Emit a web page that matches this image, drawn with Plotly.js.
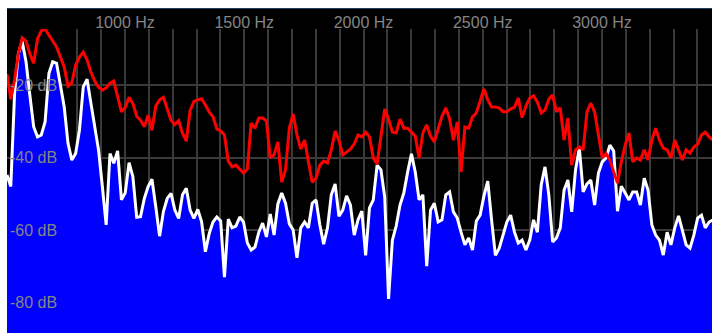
<!DOCTYPE html>
<html><head><meta charset="utf-8">
<script src="https://cdn.plot.ly/plotly-3.0.1.min.js"></script>
<style>
html,body{margin:0;padding:0;background:#fff;width:712px;height:333px;overflow:hidden}
#chart{position:absolute;left:7px;top:8px;width:705px;height:324px;border-top:1px solid #1f3f5f;}
</style></head><body><div id="chart"></div><script>
// FFT bins (Hz)
const binStartHz = 505;
const binStepHz = 16;
// white spectrum (dB), filled blue below
const spectrumDb = [
-44.8,-48,-22.3,-11.3,-8,-13.6,-22.8,-31.5,-34.3,-33.8,
-30.1,-16.8,-13.6,-14,-20,-26,-36.1,-40.7,-38.9,-32.4,
-20.5,-18.4,-25,-31.5,-37.9,-48,-58.6,
-38.9,-41.6,-38.2,-51.7,-49.7,-41.4,-45.3,-56.5,-56.3,-51.3,
-48,-46,-53.6,-61.7,-54.9,-51.3,-49.9,-54.5,-56.8,-50.3,
-48.5,-54.5,-56.8,-54.3,-57.7,-66,
-61,-57.8,-56.4,-57.5,-73,-57,-59.4,-58.9,-56.4,-57.8,
-63.6,-65.5,-64.7,-60.6,-58.1,-61.9,-55.6,-61.4,-52.8,-49.8,
-52.6,-58.3,-60,-67.7,-59.4,-57.8,
-59.4,-52.6,-51.7,-58.6,-63.9,-59.4,-50.3,-47.3,-56.2,-54.5,
-50.6,-53.1,-61.4,-57.2,-54.8,-67,-53.9,-51.7,-42.1,-43.4,
-50.9,-79,-62.8,-58.9,-53.1,-49.8,
-44,-39,-44,-51.7,-50.3,-70,-54.5,-52.6,-57.8,-57.2,
-50.3,-49.5,-55,-56.7,-60.6,-64.1,-62.2,-65.5,-57.5,-55.9,
-50.6,-46.5,-57.2,-67,-65,-61.4,
-57.8,-55.9,-60.6,-63.6,-62.8,-65.5,-62.8,-57.2,-60.6,-47.6,
-42.6,-50.3,-63.3,-62.2,-59.4,-49,-46.2,-55,-43.4,-37.4,
-49.5,-47.3,-46.2,-53.1,-44.3,-41.2,-40.1,
-36.6,-38.2,-54.8,-47.9,-49.8,-51.7,-49.5,-49.5,-53.1,-45.7,
-49,-58.6,-61.4,-62.8,-66.9,-60.6,-64.1,-59.4,-56.1,-60,
-64.1,-65,-61.4,-56.7,-55.9,-59.4,-57.8,-57.2
];
// red peak-hold curve (dB)
const peakDb = [
-17,-23.9,-18.6,-11.4,-7,-7.9,-11.4,-14,-7.3,-5.1,
-4.6,-6.2,-8.1,-9.5,-12.3,-15,-20.3,-19.4,-14.5,-12.3,
-10.9,-13.1,-16.4,-18.9,-20.6,-21.4,-20.8,
-19.5,-18.9,-23.2,-27.4,-26.2,-23.4,-25.1,-28.6,-29.7,-31.5,
-28.3,-32.5,-25.8,-24.1,-23.4,-26.4,-29.7,-30.9,-29.8,-33.3,
-35.5,-27,-24.5,-24.1,-23.8,-25.5,
-27.4,-28.8,-32.1,-32.7,-33.8,-41,-42.6,-42.1,-43.2,-44.3,
-43.2,-30.5,-31.9,-29.1,-29.1,-29.9,-40.1,-39.3,-35.7,-46.8,
-43.4,-31.9,-28,-33.8,-37.7,-35.2,
-41.2,-46.8,-45.7,-42.1,-41,-41.5,-37.9,-32.7,-35.2,-39.3,
-38.5,-37.7,-36.3,-33.8,-34.3,-33,-34.3,-40.1,-41.8,-33.5,
-26.6,-29.4,-33,-33.2,-29.4,-31.9,
-31.9,-33,-34.1,-40.1,-33.2,-31,-34.1,-35.7,-31.9,-28.6,
-26.3,-29.4,-35.2,-30.2,-44,-31.6,-31.9,-28.8,-27.7,-24.1,
-21.1,-24.1,-26.1,-26.1,-26.3,-27.4,
-27.4,-26.6,-26.1,-23.6,-29,-25.8,-23.6,-23,-24.7,-27.7,
-26.9,-23.9,-22.8,-27.4,-26.3,-35.2,-29.1,-42.1,-37.9,-37.1,
-37.9,-27.4,-25,-27.4,-33.8,-40.1,-38.9,
-40.7,-44,-47,-41.2,-36.6,-33.2,-41.2,-40.1,-40.7,-37.9,
-40.7,-35.2,-31.9,-35.2,-37.4,-37.9,-40.1,-35.2,-37.9,-40.7,
-37.9,-38.8,-37.1,-36.3,-33.8,-33,-34.3,-35.2
];
// axis ticks
const gridHz = [600,700,800,900,1000,1100,1200,1300,1400,1500,1600,1700,1800,1900,2000,2100,2200,2300,2400,2500,2600,2700,2800,2900,3000,3100,3200,3300,3400];
const labelHz = [1000,1500,2000,2500,3000];
const dbTicks = [-80,-60,-40,-20];
const dbLabels = ['-80 dB','-60 dB','-40 dB','-20 dB'];
const floorDb = -120;

const freqHz = spectrumDb.map((_, i) => binStartHz + i * binStepHz);
const xTickText = gridHz.map(f => labelHz.includes(f) ? f + ' Hz' : '');

const font = {family:'"Liberation Sans", Arial, sans-serif', size:16, color:'#858585'};
const gridColor = '#3a3a3a';

const traces = [
  {x:[freqHz[0], freqHz[freqHz.length-1]], y:[floorDb, floorDb], mode:'lines',
   line:{width:0, color:'rgba(0,0,0,0)'}, hoverinfo:'skip', showlegend:false},
  {x:freqHz, y:spectrumDb, mode:'lines', fill:'tonexty', fillcolor:'#0000ff',
   line:{color:'#ffffff', width:3}, showlegend:false},
  {x:freqHz, y:peakDb, mode:'lines', line:{color:'#ff0000', width:3}, showlegend:false}
];

const layout = {
  width:705, height:324,
  margin:{l:0, r:0, t:20, b:0, pad:0},
  paper_bgcolor:'#000', plot_bgcolor:'#000',
  showlegend:false,
  font:font,
  xaxis:{range:[505.2, 3461.2], side:'top', tickmode:'array', tickvals:gridHz, ticktext:xTickText,
    showgrid:true, gridcolor:gridColor, gridwidth:2, ticks:'', zeroline:false, showline:false,
    ticklabelstandoff:-3, tickfont:font, fixedrange:true},
  yaxis:{range:[-88.41, -4.55], tickmode:'array', tickvals:dbTicks, ticktext:dbLabels,
    ticklabelposition:'inside', showgrid:true, gridcolor:gridColor, gridwidth:2, ticks:'',
    zeroline:false, showline:false, tickfont:font, fixedrange:true}
};

Plotly.newPlot('chart', traces, layout, {staticPlot:true, displayModeBar:false});
</script></body></html>
